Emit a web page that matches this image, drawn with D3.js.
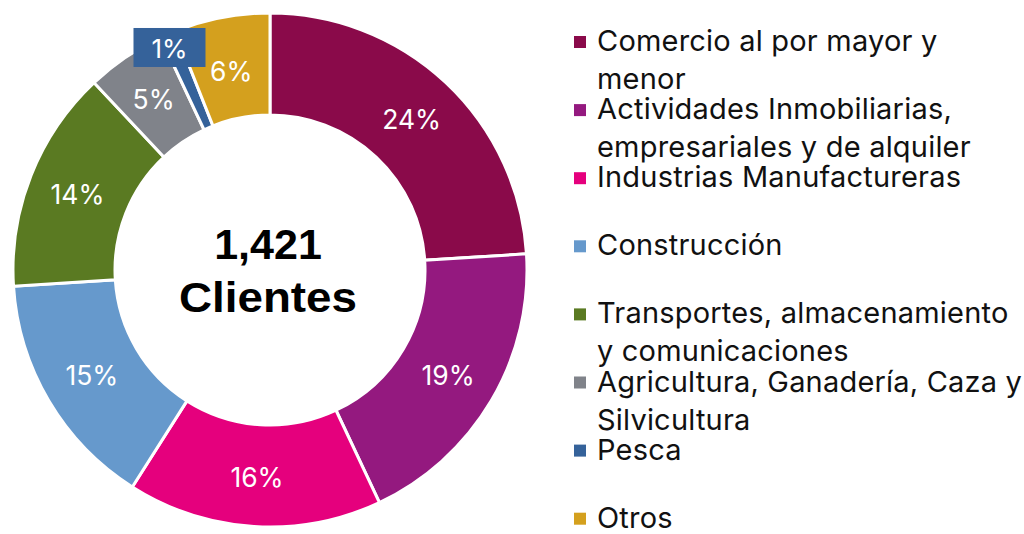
<!DOCTYPE html>
<html>
<head>
<meta charset="utf-8">
<script src="https://cdn.jsdelivr.net/npm/d3@7"></script>
<style>
  body { margin: 0; background: #fff; }
  svg { display: block; }
</style>
</head>
<body>
<svg width="1024" height="534"></svg>
<script>
// sectores economicos (porcentaje de clientes)
var sectors = ["Comercio al por mayor y menor", "Actividades Inmobiliarias, empresariales y de alquiler",
  "Industrias Manufactureras", "Construcción", "Transportes, almacenamiento y comunicaciones",
  "Agricultura, Ganadería, Caza y Silvicultura", "Pesca", "Otros"];
var shares = [24, 19, 16, 15, 14, 5, 1, 6];
var colors = ["#8a0a4a", "#94197f", "#e5007d", "#6699cc", "#5a7a22", "#80838a", "#35629a", "#d4a01e"];
// legend text as it wraps in the original
var legendLines = [["Comercio al por mayor y", "menor"], ["Actividades Inmobiliarias,", "empresariales y de alquiler"],
  ["Industrias Manufactureras"], ["Construcción"], ["Transportes, almacenamiento", "y comunicaciones"],
  ["Agricultura, Ganadería, Caza y", "Silvicultura"], ["Pesca"], ["Otros"]];
var totalClients = "1,421";

var svg = d3.select("svg");
var cx = 270, cy = 270, outerR = 257, innerR = 155;

var data = sectors.map(function(s, i) { return {name: s, value: shares[i], color: colors[i]}; });

var pie = d3.pie().value(function(d) { return d.value; }).sort(null);
var arc = d3.arc().innerRadius(innerR).outerRadius(outerR);
var labelArc = d3.arc().innerRadius(207).outerRadius(207);
var calloutArc = d3.arc().innerRadius(243).outerRadius(243);

var g = svg.append("g").attr("transform", "translate(" + cx + "," + cy + ")");
var arcs = pie(data);

g.selectAll("path").data(arcs).enter().append("path")
  .attr("d", arc)
  .attr("fill", function(d) { return d.data.color; })
  .attr("stroke", "#fff")
  .attr("stroke-width", 3);

// labels inside the ring, small slice gets a boxed label outside
arcs.forEach(function(d) {
  if (d.data.value < 3) {
    var p = calloutArc.centroid(d);
    g.append("rect").attr("x", p[0] - 40).attr("y", p[1] - 19).attr("width", 72).attr("height", 39)
      .attr("fill", d.data.color);
    g.append("text").attr("x", p[0] - 4).attr("y", p[1] + 1)
      .attr("text-anchor", "middle").attr("dominant-baseline", "central")
      .attr("font-family", "Inter, sans-serif").attr("font-size", 26).attr("fill", "#fff")
      .text(d.data.value + "%");
  } else {
    var c = labelArc.centroid(d);
    g.append("text").attr("x", c[0]).attr("y", c[1] + (d.data.name == "Otros" ? 4 : 0))
      .attr("text-anchor", "middle").attr("dominant-baseline", "central")
      .attr("font-family", "Inter, sans-serif").attr("font-size", 26.5).attr("fill", "#fff")
      .text(d.data.value + "%");
  }
});

// center text
g.append("text").attr("x", -2).attr("y", -11).attr("text-anchor", "middle")
  .attr("font-family", "Liberation Sans, Arial, sans-serif").attr("font-weight", "bold").attr("font-size", 43)
  .text(totalClients);
g.append("text").attr("x", -2).attr("y", 42).attr("text-anchor", "middle")
  .attr("font-family", "Liberation Sans, Arial, sans-serif").attr("font-weight", "bold").attr("font-size", 43)
  .attr("textLength", 178).attr("lengthAdjust", "spacingAndGlyphs")
  .text("Clientes");

// legend
var legend = svg.append("g").attr("transform", "translate(574,0)");
data.forEach(function(d, i) {
  var yc = 42 + i * 68.1;
  legend.append("rect").attr("x", 0).attr("y", yc - 6).attr("width", 12).attr("height", 12).attr("fill", d.color);
  var t = legend.append("text").attr("x", 23).attr("y", yc + 9)
    .attr("font-family", "Inter, sans-serif").attr("font-size", 29).attr("letter-spacing", 0.2).attr("fill", "#111");
  legendLines[i].forEach(function(line, j) {
    t.append("tspan").attr("x", 23).attr("dy", j == 0 ? 0 : 38).text(line);
  });
});
</script>
</body>
</html>
